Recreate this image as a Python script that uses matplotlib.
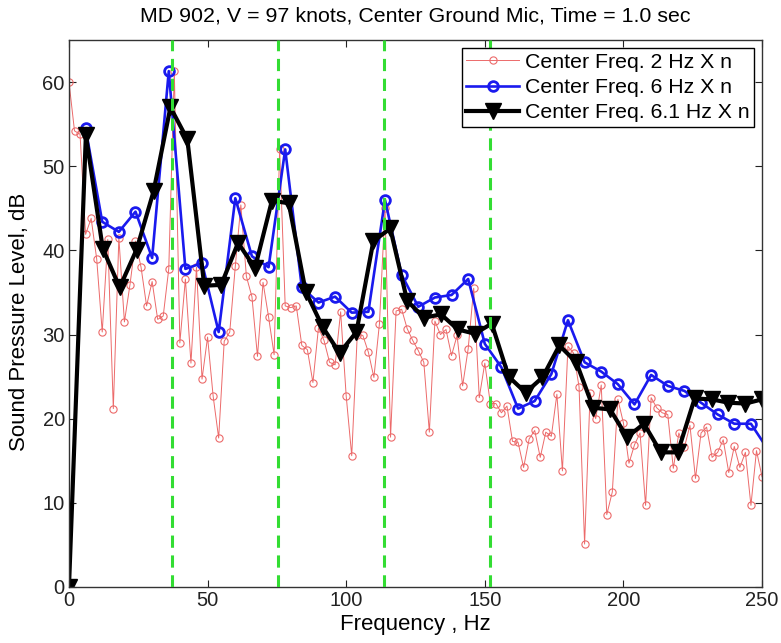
import numpy as np
import matplotlib
matplotlib.use("Agg")
import matplotlib.pyplot as plt

plt.rcParams['font.family'] = ['Liberation Sans', 'DejaVu Sans']

# Spectrum sampled every 2 Hz (0 .. 250 Hz)
spl_2hz = [
    60.0, 54.2, 53.8, 41.9, 43.8, 39.0, 30.3, 41.3, 21.2, 41.5,
    31.5, 35.9, 41.1, 38.0, 33.4, 36.3, 31.8, 32.2, 37.8, 61.3,
    29.0, 36.6, 26.6, 38.0, 24.7, 29.7, 22.7, 17.7, 29.2, 30.3,
    38.1, 45.4, 36.9, 34.5, 27.4, 36.2, 32.1, 27.6, 52.0, 33.4,
    33.2, 33.4, 28.7, 28.2, 24.3, 30.8, 29.3, 26.7, 26.4, 32.7,
    22.7, 15.6, 30.0, 29.9, 27.9, 24.9, 31.3, 45.0, 17.8, 32.8,
    33.0, 30.7, 29.3, 28.1, 26.7, 18.4, 31.6, 30.0, 30.6, 27.5,
    29.9, 23.9, 28.3, 35.5, 22.5, 26.6, 21.8, 21.8, 20.7, 21.5,
    17.3, 17.2, 14.2, 17.6, 18.6, 15.4, 18.4, 17.9, 22.9, 13.8,
    28.6, 27.8, 23.8, 5.1, 23.1, 20.0, 24.0, 8.6, 11.3, 22.3,
    19.5, 14.7, 16.9, 18.3, 9.7, 22.5, 21.3, 20.7, 20.5, 14.1,
    18.3, 16.6, 19.2, 12.9, 18.3, 19.0, 15.4, 16.0, 17.5, 13.6,
    16.7, 14.2, 16.0, 9.7, 16.2, 13.1,
]

# Spectrum in 6 Hz bands (6 .. 252 Hz)
spl_6hz = [
    54.5, 43.4, 42.2, 44.6, 39.1, 61.3, 37.8, 38.5, 30.3, 46.2,
    39.3, 38.0, 52.0, 35.6, 33.8, 34.5, 32.6, 32.7, 46.0, 37.1,
    33.3, 34.4, 34.7, 36.6, 28.9, 26.1, 21.2, 22.1, 25.3, 31.7,
    26.7, 25.6, 24.1, 21.7, 25.2, 23.9, 23.3, 21.9, 20.5, 19.4,
    19.4, 16.4,
]

# Spectrum in 6.1 Hz bands (0 .. 250.1 Hz)
spl_61hz = [
    0.0, 53.7, 40.2, 35.6, 40.1, 47.0, 57.0, 53.2, 35.8, 35.9,
    40.9, 37.9, 45.9, 45.6, 35.1, 30.9, 27.8, 30.3, 41.1, 42.6,
    34.0, 32.0, 32.4, 30.6, 30.1, 31.3, 25.0, 23.1, 24.9, 28.7,
    26.7, 21.3, 21.1, 17.8, 19.4, 16.0, 16.0, 22.4, 22.3, 21.9,
    21.8, 22.3,
]

# Harmonic reference frequencies (Hz)
harmonics = [37.2, 75.5, 113.8, 152.0]

labels = ["Center Freq. 2 Hz X n", "Center Freq. 6 Hz X n",
          "Center Freq. 6.1 Hz X n"]
title = "MD 902, V = 97 knots, Center Ground Mic, Time = 1.0 sec"

f_2 = 2.0 * np.arange(len(spl_2hz))
f_6 = 6.0 * np.arange(1, len(spl_6hz) + 1)
f_61 = 6.1 * np.arange(len(spl_61hz))

fig = plt.figure(figsize=(7.81, 6.43), dpi=100)
ax = fig.add_axes([0.0883, 0.0871, 0.8874, 0.8507])

ax.plot(f_2, spl_2hz, '-o', color='#ec6a6a', lw=0.7, ms=5.2,
        mfc='none', mec='#ec6a6a', mew=0.8, label=labels[0])
ax.plot(f_6, spl_6hz, '-o', color='#1a1aee', lw=1.9, ms=7,
        mfc='none', mec='#1a1aee', mew=2.0, label=labels[1])
ax.plot(f_61, spl_61hz, '-v', color='black', lw=3.0, ms=11,
        mfc='black', mec='black', label=labels[2])

for h in harmonics:
    ax.axvline(h, color='#33dd33', lw=2.2, ls=(0, (4, 2.5)), zorder=5)

ax.set_xlim(0, 250)
ax.set_ylim(0, 65)
ax.set_xticks([0, 50, 100, 150, 200, 250])
ax.set_yticks([0, 10, 20, 30, 40, 50, 60])
ax.tick_params(direction='in', top=True, right=True, labelsize=14.5,
               length=5, width=0.8, colors='#222222', pad=3)
for s in ax.spines.values():
    s.set_linewidth(1.0)
    s.set_color('#333333')

ax.set_xlabel("Frequency , Hz", fontsize=16, labelpad=3)
ax.set_ylabel("Sound Pressure Level, dB", fontsize=16)
ax.yaxis.set_label_coords(-0.056, 0.485)
ax.set_title(title, fontsize=15.4, pad=13)

leg = ax.legend(loc='upper right', fontsize=15.3, frameon=True,
                fancybox=False, framealpha=1, edgecolor='black',
                handlelength=2.5, handletextpad=0.25, labelspacing=0.3,
                borderpad=0.2, borderaxespad=0.4)
leg.get_frame().set_linewidth(1.0)
leg.set_zorder(10)

fig.savefig("out.png", dpi=100)
